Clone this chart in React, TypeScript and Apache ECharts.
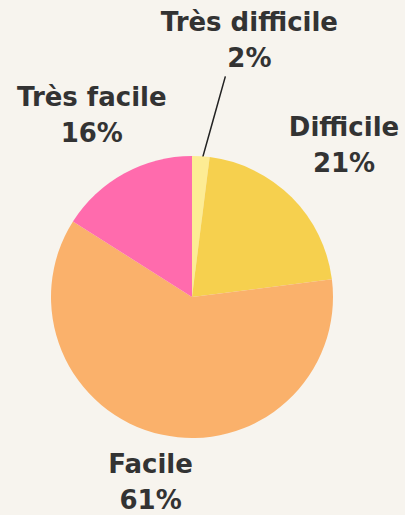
import React, { useEffect, useRef } from 'react';
import * as echarts from 'echarts';

const categories = ['Très difficile', 'Difficile', 'Facile', 'Très facile'];
const values = [2, 21, 61, 16];
const colors = ['#fdec94', '#f6d04e', '#fab16b', '#ff6bad'];

// label layout (style): distance of label centre from pie centre and angular shift in degrees
const labelRadius = [263, 215, 190, 208];
const labelAngleShift = [9, 0, 0, 0];

const CX = 192;
const CY = 297;
const R = 141;

export default function App() {
  const ref = useRef<HTMLDivElement>(null);
  useEffect(() => {
    const chart = echarts.init(ref.current!, null, { renderer: 'svg' });
    const total = values.reduce((a, b) => a + b, 0);
    const mids: number[] = [];
    let cum = 0;
    values.forEach((v) => {
      mids.push(((cum + v / 2) / total) * 360);
      cum += v;
    });
    chart.setOption({
      animation: false,
      backgroundColor: '#f7f4ee',
      series: [
        {
          type: 'pie',
          center: [CX, CY],
          radius: R,
          startAngle: 90,
          clockwise: true,
          avoidLabelOverlap: false,
          data: categories.map((name, i) => ({
            name,
            value: values[i],
            itemStyle: { color: colors[i] },
            labelLine: { show: i === 0 },
          })),
          label: {
            position: 'outside',
            formatter: (p: any) => p.name + '\n' + Math.round(p.percent) + '%',
            fontFamily: 'DejaVu Sans',
            fontWeight: 700,
            fontSize: 26,
            lineHeight: 36,
            color: '#333333',
            align: 'center',
          },
          labelLine: {
            length: 10,
            length2: 0,
            lineStyle: { color: '#222222', width: 1.5 },
          },
          emphasis: { disabled: true },
          labelLayout: (p: any) => {
            const i = p.dataIndex;
            const a = ((mids[i] + labelAngleShift[i]) * Math.PI) / 180;
            const x = CX + Math.sin(a) * labelRadius[i];
            const y = CY - Math.cos(a) * labelRadius[i];
            const res: any = { x, y, align: 'center', verticalAlign: 'middle' };
            if (i === 0) {
              const m = (mids[i] * Math.PI) / 180;
              const r0 = R * 0.93;
              const sx = CX + Math.sin(m) * r0;
              const sy = CY - Math.cos(m) * r0;
              const ex = x - 24;
              const ey = y + 36;
              res.labelLinePoints = [
                [sx, sy],
                [(sx + ex) / 2, (sy + ey) / 2],
                [ex, ey],
              ];
            }
            return res;
          },
        },
      ],
    });
    return () => chart.dispose();
  }, []);
  return (
    <div
      ref={ref}
      style={{ position: 'absolute', left: 0, top: 0, width: 405, height: 515 }}
    />
  );
}
